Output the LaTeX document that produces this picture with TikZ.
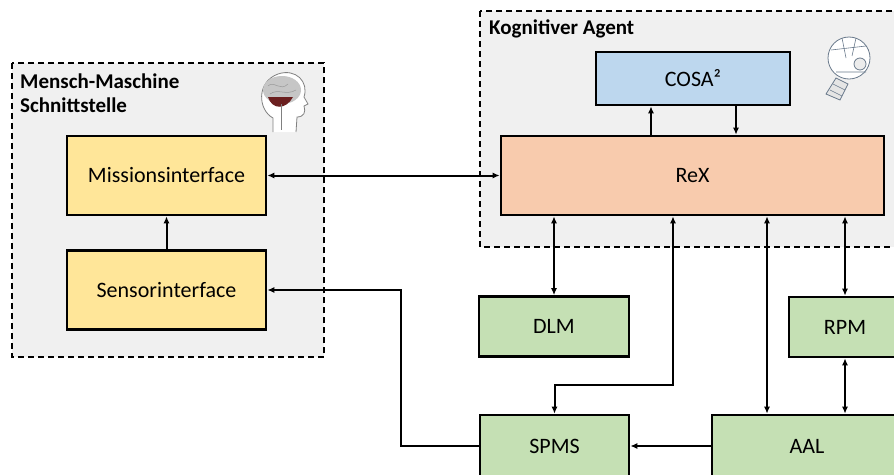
\documentclass[tikz,border=0pt]{standalone}
\usepackage{fontspec}
\setmainfont{Carlito}
\usetikzlibrary{arrows.meta,positioning}
\definecolor{groupfill}{HTML}{F0F0F0}
\definecolor{ifacefill}{HTML}{FFE699}
\definecolor{rexfill}{HTML}{F8CBAD}
\definecolor{cosafill}{HTML}{BDD7EE}
\definecolor{modfill}{HTML}{C5E0B4}
\definecolor{brainred}{HTML}{6B1F1F}
\definecolor{robotline}{HTML}{6A7A8C}
\tikzset{
  group/.style={draw,fill=groupfill,line width=1.8pt,dash pattern=on 6pt off 4pt},
  grouptitle/.style={anchor=north west,align=left,inner sep=0pt,
    font=\fontsize{21}{24}\selectfont\bfseries},
  box/.style={draw,line width=2.6pt,inner sep=0pt,font=\fontsize{22}{25}\selectfont},
  ifacebox/.style={box,fill=ifacefill,minimum width=199pt,minimum height=79pt},
  rexbox/.style={box,fill=rexfill,minimum width=383pt,minimum height=79pt},
  cosabox/.style={box,fill=cosafill,minimum width=194pt,minimum height=53pt},
  modbox/.style={box,fill=modfill,minimum height=60pt},
  link/.style={-{Latex[length=7pt,width=6pt]},line width=2pt},
  biarrow/.style={{Latex[length=7pt,width=6pt]}-{Latex[length=7pt,width=6pt]},line width=2pt}
}

\begin{document}
\begin{tikzpicture}[x=1pt,y=-1pt]
  \clip (0,0) rectangle (894,474);
  \fill[white] (0,0) rectangle (894,474);

  % Gruppen
  \draw[group] (12,63) rectangle (324,357);
  \node[grouptitle] (mmstitle) at (20,74) {Mensch-Maschine\\Schnittstelle};
  \draw[group] (480,11) rectangle (910,247);
  \node[grouptitle] (agenttitle) at (489,20) {Kognitiver Agent};

  % Kopf mit Gehirn
  \draw[gray,line width=0.8pt,fill=white] (273,132) -- (273,118)
    .. controls (258,110) and (256,82) .. (278,74)
    .. controls (296,68) and (309,82) .. (304,97) -- (308,104) -- (304,106)
    .. controls (306,112) and (304,117) .. (297,117) -- (296,132);
  \fill[gray!45] (282,90) ellipse (19pt and 14pt);
  \draw[gray!80,line width=0.5pt] (268,86) .. controls (274,80) and (280,92) .. (288,84)
    (270,94) .. controls (278,88) and (286,96) .. (296,90);
  \fill[brainred] (268,97) .. controls (272,110) and (286,110) .. (293,97) -- cycle;
  \draw[gray,line width=0.6pt] (281,104) -- (281,130);

  % Roboterkopf
  \draw[robotline,line width=0.8pt,fill=white] (849,58) circle (21pt);
  \draw[robotline,line width=0.6pt] (831,50) -- (866,46) (836,72) -- (866,72)
    (842,38) -- (846,58) (856,38) -- (852,56);
  \draw[robotline,line width=0.8pt,fill=gray!15] (860,64) circle (6pt);
  \draw[robotline,line width=0.8pt,fill=gray!20] (836,78) -- (848,84) -- (840,100) -- (826,94) -- cycle;
  \draw[robotline,line width=0.6pt] (830,90) -- (842,96) (833,84) -- (845,90);

  % Module
  \node[ifacebox] (mission) at (166.5,175.5) {Missionsinterface};
  \node[ifacebox] (sensor) at (166.5,290) {Sensorinterface};
  \node[cosabox] (cosa) at (693,78.5) {COSA²};
  \node[rexbox] (rex) at (692.5,175.5) {ReX};
  \node[modbox,minimum width=150pt] (dlm) at (554,326.5) {DLM};
  \node[modbox,minimum width=112pt] (rpm) at (845,327) {RPM};
  \node[modbox,minimum width=149pt,minimum height=62pt] (spms) at (554.5,446) {SPMS};
  \node[modbox,minimum width=190pt,minimum height=62pt] (aal) at (807,446) {AAL};

  % Verbindungen
  \draw[link] (sensor) -- (mission);
  \draw[biarrow] (mission.east) -- (rex.west);
  \draw[link] (rex.north -| 651,0) -- (cosa.south -| 651,0);
  \draw[link] (cosa.south -| 736,0) -- (rex.north -| 736,0);
  \draw[biarrow] (rex.south -| dlm.north) -- (dlm.north);
  \draw[biarrow] (rex.south -| 673,0) -- (673,385) -| (spms.north);
  \draw[biarrow] (rex.south -| 767,0) -- (aal.north -| 767,0);
  \draw[biarrow] (rex.south -| rpm.north) -- (rpm.north);
  \draw[biarrow] (rpm.south) -- (aal.north -| rpm.south);
  \draw[link] (aal.west) -- (spms.east);
  \draw[link] (spms.west) -- (401,446) |- (sensor.east);
\end{tikzpicture}
\end{document}
